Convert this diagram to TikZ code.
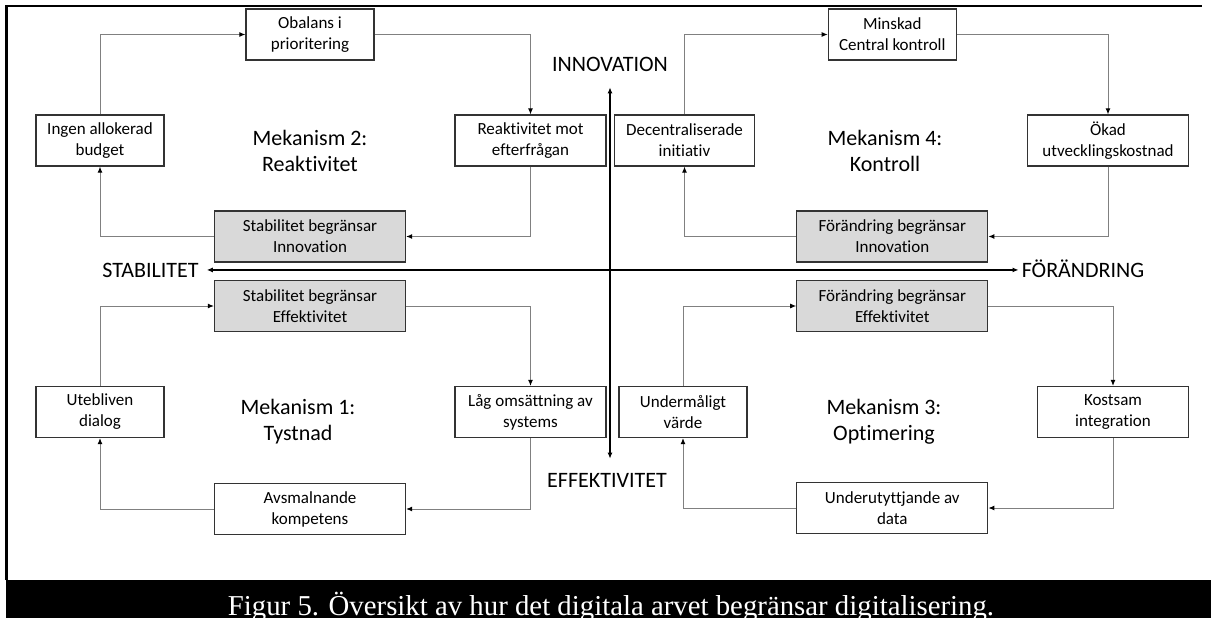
\documentclass[tikz,border=0pt]{standalone}
\usepackage{fontspec}
\setmainfont{Carlito}[Ligatures=NoCommon]
\newfontfamily\captionfont{Liberation Serif}
\usepackage{tikz}
\usetikzlibrary{arrows,arrows.meta,positioning}
\tikzset{
    %Define standard arrow tip
    >={Latex[length=6pt,width=5pt,black]},
    %Define style for boxes
    cause/.style={
           rectangle,
           draw=black!80, line width=1.2pt,
           minimum width=128pt,
           minimum height=51pt,
           inner sep=2pt,
           font=\fontsize{17}{21}\selectfont,
           align=center,
           fill=white},
    limit/.style={
           cause,
           minimum width=191pt,
           fill=black!15},
    mech/.style={
           font=\fontsize{22}{26}\selectfont,
           align=center},
    axislabel/.style={
           inner sep=0pt,
           anchor=base,
           font=\fontsize{22}{26}\selectfont},
    % Define arrow style
    pil/.style={
           ->,
           draw=black!50,
           line width=1pt},
    axis/.style={
           <->,
           line width=1.4pt}
}
\begin{document}
\begin{tikzpicture}[x=1pt,y=-1pt]
\useasboundingbox (0,0) rectangle (1211,618);
% frame and caption
\draw[line width=2.2pt] (6.5,580) -- (6.5,6) -- (1202,6);
\fill[black] (5.5,580) rectangle (1211,618);
\node[text=white,anchor=base,font=\captionfont\fontsize{28.8}{32}\selectfont] (caption) at (611,615.5)
  {Figur 5. Översikt av hur det digitala arvet begränsar digitalisering.};
% axes
\node[axislabel](stab) at (150.5,277){STABILITET};
\node[axislabel](forand) at (1083,277){FÖRÄNDRING};
\node[axislabel](innov) at (610,72){INNOVATION};
\node[axislabel](effekt) at (607,487){EFFEKTIVITET};
\draw[axis,shorten <=8pt,shorten >=3pt] (stab.east) -- (stab.east -| forand.west);
\draw[axis,shorten <=15pt,shorten >=14pt] (innov.south) -- (innov.south |- effekt.north);
% Mekanism 2
\node[cause](obalans) at (310,34.5){Obalans i\\prioritering};
\node[cause](ingen) at (100,140.5){Ingen allokerad\\budget};
\node[cause,minimum width=151pt](reakt) at (530.5,140.5){Reaktivitet mot\\efterfrågan};
\node[limit](stabinn) at (310,236.5){Stabilitet begränsar\\Innovation};
\node[mech](m2) at (310,151){Mekanism 2:\\Reaktivitet};
\draw[pil] (ingen.north) |- (obalans.west);
\draw[pil] (obalans.east) -| (reakt.north);
\draw[pil] (reakt.south) |- (stabinn.east);
\draw[pil] (stabinn.west) -| (ingen.south);
% Mekanism 1
\node[limit](stabeff) at (310,306){Stabilitet begränsar\\Effektivitet};
\node[cause](utebliven) at (100,412){Utebliven\\dialog};
\node[cause,minimum width=151pt](lag) at (530.5,412){Låg omsättning av\\systems};
\node[cause,minimum width=191pt](avsmal) at (310,509){Avsmalnande\\kompetens};
\node[mech](m1) at (298,421.5){Mekanism 1:\\Tystnad};
\draw[pil] (utebliven.north) |- (stabeff.west);
\draw[pil] (stabeff.east) -| (lag.north);
\draw[pil] (lag.south) |- (avsmal.east);
\draw[pil] (avsmal.west) -| (utebliven.south);
% Mekanism 4
\node[cause](minskad) at (892.3,34.5){Minskad\\Central kontroll};
\node[cause,minimum width=140pt](decentral) at (684.5,140.5){Decentraliserade\\initiativ};
\node[cause,minimum width=161pt](okad) at (1108,140.5){Ökad\\utvecklingskostnad};
\node[limit](forinn) at (892.3,236.5){Förändring begränsar\\Innovation};
\node[mech](m4) at (885,150.5){Mekanism 4:\\Kontroll};
\draw[pil] (decentral.north) |- (minskad.west);
\draw[pil] (minskad.east) -| (okad.north);
\draw[pil] (okad.south) |- (forinn.east);
\draw[pil] (forinn.west) -| (decentral.south);
% Mekanism 3
\node[limit](foreff) at (892.3,306){Förändring begränsar\\Effektivitet};
\node[cause](underm) at (683,412){Undermåligt\\värde};
\node[cause,minimum width=151pt](kostsam) at (1113,412){Kostsam\\integration};
\node[cause,minimum width=191pt](underut) at (892.3,508){Underutyttjande av\\data};
\node[mech](m3) at (884,422){Mekanism 3:\\Optimering};
\draw[pil] (underm.north) |- (foreff.west);
\draw[pil] (foreff.east) -| (kostsam.north);
\draw[pil] (kostsam.south) |- (underut.east);
\draw[pil] (underut.west) -| (underm.south);
\end{tikzpicture}
\end{document}
